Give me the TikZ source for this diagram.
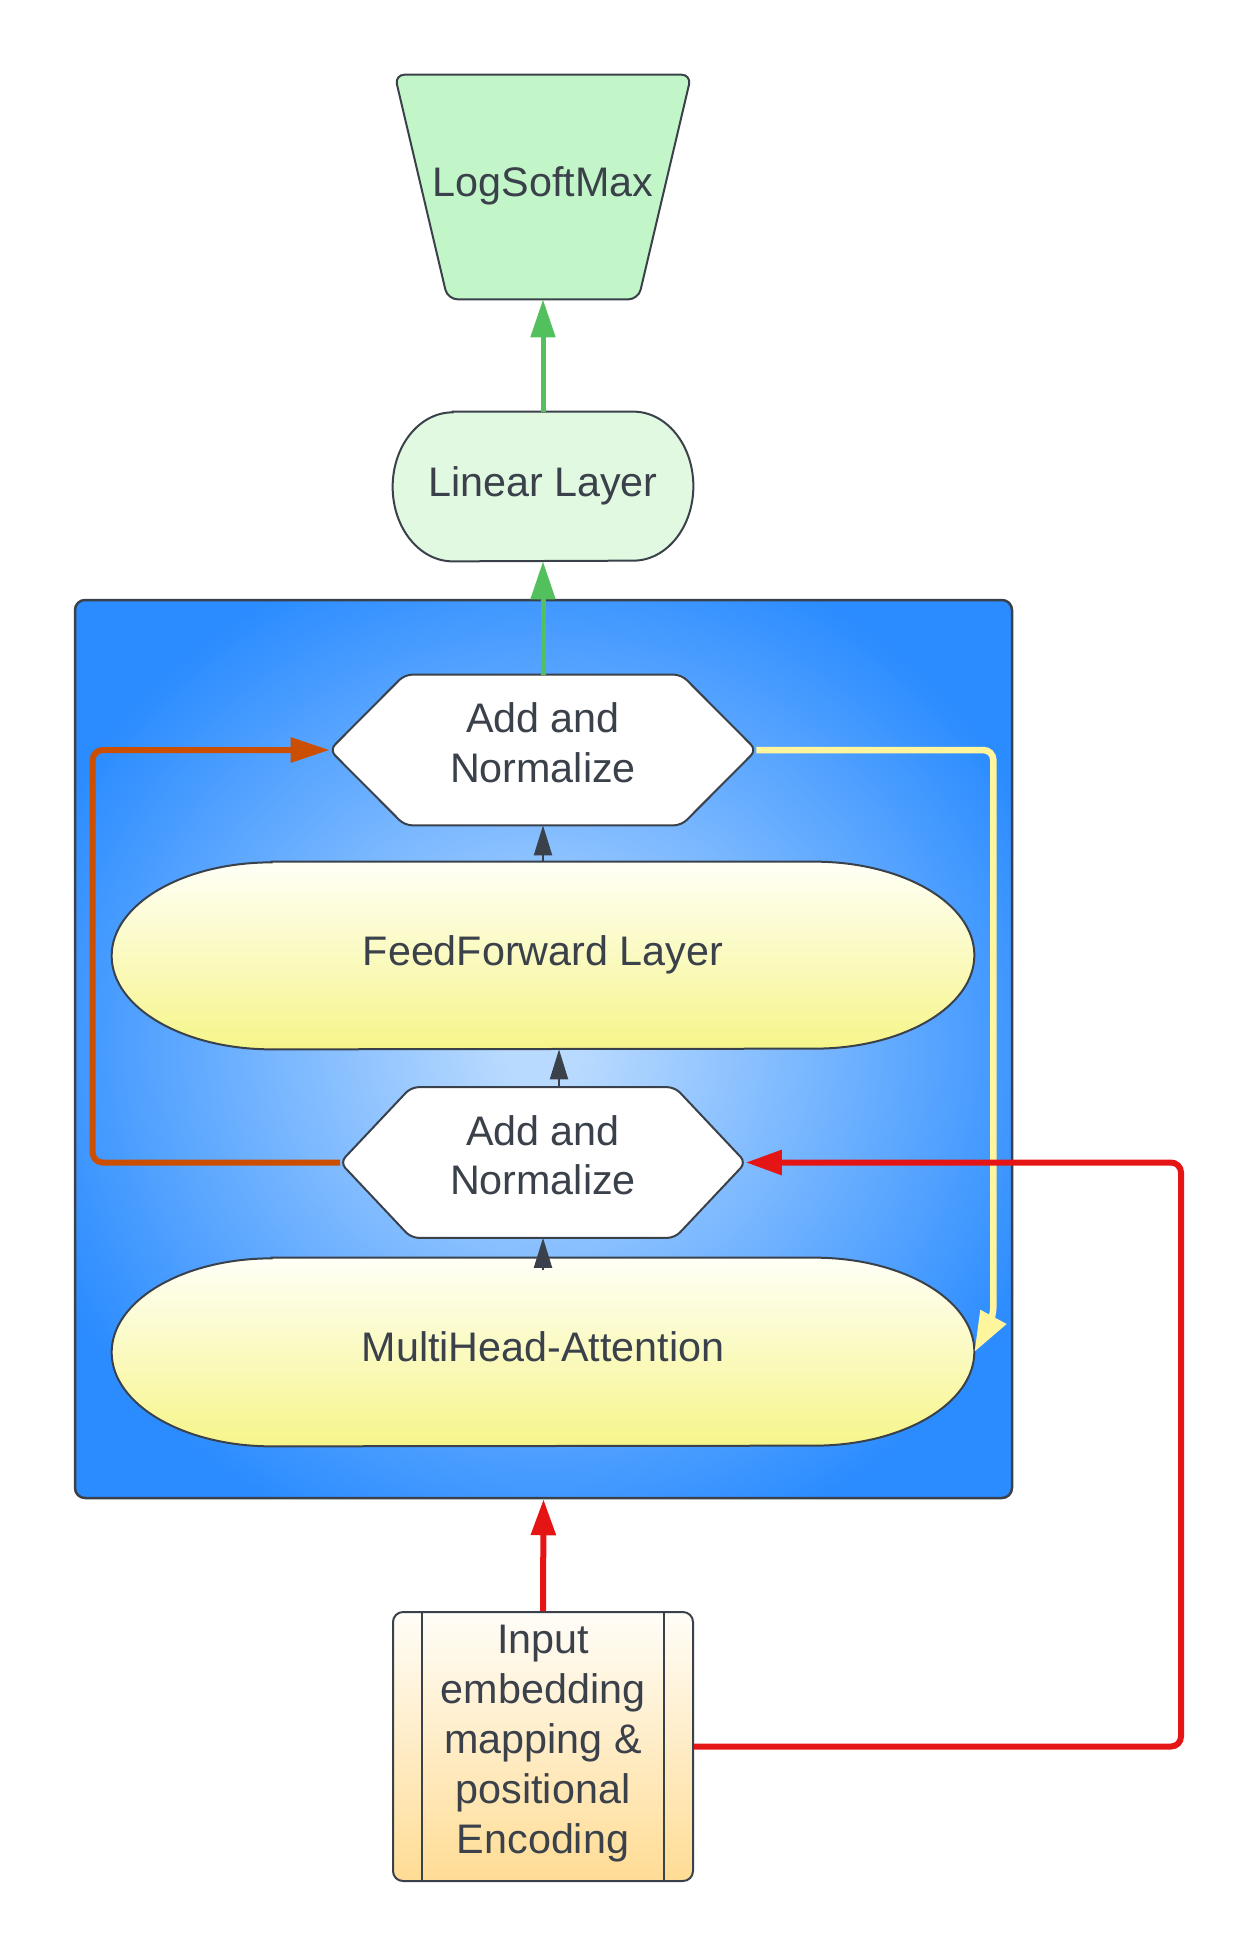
\documentclass[tikz,border=0pt]{standalone}
\usepackage{fontspec}
\setmainfont{Liberation Sans}
\usepackage{tikz}
\usetikzlibrary{arrows.meta,calc}
\usepackage{xcolor}
\definecolor{ink}{HTML}{3A414A}
\definecolor{softgreen}{HTML}{C2F6C8}
\definecolor{palegreen}{HTML}{E1F9E1}
\definecolor{leafgreen}{HTML}{52C05C}
\definecolor{bluein}{HTML}{B9DAFF}
\definecolor{blueout}{HTML}{2B8CFF}
\definecolor{creamtop}{HTML}{FFFFF7}
\definecolor{yellowbot}{HTML}{F6F58A}
\definecolor{peachtop}{HTML}{FFFDF8}
\definecolor{peachbot}{HTML}{FFDC94}
\definecolor{signalred}{HTML}{E51515}
\definecolor{rust}{HTML}{CC4E00}
\definecolor{lemon}{HTML}{FFF59D}

\pgfdeclareradialshading{bluebg}{\pgfpoint{0bp}{0bp}}{%
    color(0bp)=(bluein); color(2bp)=(bluein);
    color(29bp)=(blueout); color(50bp)=(blueout)}

\pgfdeclarelayer{back}
\pgfdeclarelayer{shape}
\pgfsetlayers{back,shape,main}

\tikzset{
    box/.style={
        inner sep=0pt,
        align=center,
        text=ink,
        font=\fontsize{23.5pt}{28.4pt}\selectfont,
        execute at begin node=\strut,
        execute at end node=\strut
    },
    outline/.style={
        draw=ink,
        line width=0.04cm
    },
    blockbox/.style={
        draw=ink,
        line width=0.05cm,
        rounded corners=0.2cm,
        shade,
        shading=bluebg,
        minimum width=18.74cm,
        minimum height=17.96cm,
        inner sep=0pt
    },
    procbox/.style={
        box,
        draw=ink,
        line width=0.04cm,
        rounded corners=0.2cm,
        top color=peachtop,
        bottom color=peachbot,
        minimum width=6cm,
        minimum height=5.38cm
    },
    thinarrow/.style={
        -{Triangle[length=0.6cm,width=0.36cm]},
        draw=ink,
        line width=0.04cm
    },
    greenarrow/.style={
        -{Triangle[length=0.76cm,width=0.48cm]},
        draw=leafgreen,
        line width=0.1cm
    },
    redarrow/.style={
        -{Triangle[length=0.72cm,width=0.48cm]},
        draw=signalred,
        line width=0.12cm,
        rounded corners=0.2cm
    },
    rustarrow/.style={
        -{Triangle[length=0.78cm,width=0.48cm]},
        draw=rust,
        line width=0.12cm,
        rounded corners=0.2cm
    },
    lemonarrow/.style={
        -{Triangle[length=0.8cm,width=0.56cm]},
        draw=lemon,
        line width=0.13cm,
        rounded corners=0.2cm
    }
}

\begin{document}
\begin{tikzpicture}

    \useasboundingbox (0,0) rectangle (25.12,-39.12);

    % Bloc encodeur
    \begin{pgfonlayer}{back}
        \node[blockbox] (block) at (10.87,-20.98) {};
    \end{pgfonlayer}

    % Noeuds
    \node[
        box,
        minimum width=5.92cm,
        minimum height=4.48cm
    ] (logsm) at (10.86,-3.74) {LogSoftMax};

    \node[
        box,
        minimum width=6cm,
        minimum height=2.98cm
    ] (linear) at (10.86,-9.73) {Linear Layer};

    \node[
        box,
        minimum width=8.52cm,
        minimum height=3cm
    ] (addtop) at (10.86,-15) {Add and\\Normalize};

    \node[
        box,
        minimum width=17.24cm,
        minimum height=3.74cm
    ] (ff) at (10.86,-19.11) {FeedForward Layer};

    \node[
        box,
        minimum width=8.1cm,
        minimum height=3cm
    ] (addbot) at (10.86,-23.25) {Add and\\Normalize};

    \node[
        box,
        minimum width=17.24cm,
        minimum height=3.76cm
    ] (mha) at (10.86,-27.04) {MultiHead-Attention};

    \node[procbox] (input) at (10.86,-34.93)
        {Input\\embedding\\mapping \&\\positional\\Encoding};

    % Barres du bloc d'entree
    \draw[outline]
        ([xshift=0.6cm]input.north west) -- ([xshift=0.6cm]input.south west);
    \draw[outline]
        ([xshift=-0.6cm]input.north east) -- ([xshift=-0.6cm]input.south east);

    % Contours
    \begin{pgfonlayer}{shape}

        % Trapeze
        \draw[outline,fill=softgreen,rounded corners=0.2cm]
            (logsm.north west) -- (logsm.north east)
            -- ([xshift=-1.06cm]logsm.south east)
            -- ([xshift=1.06cm]logsm.south west) -- cycle;

        % Couche lineaire
        \draw[outline,fill=palegreen]
            ([xshift=1.2cm]linear.north west) -- ([xshift=-1.2cm]linear.north east)
            arc[start angle=90,end angle=-90,x radius=1.2cm,y radius=1.49cm]
            -- ([xshift=1.2cm]linear.south west)
            arc[start angle=270,end angle=90,x radius=1.2cm,y radius=1.49cm]
            -- cycle;

        % Hexagone haut
        \draw[outline,fill=white,rounded corners=0.15cm]
            (addtop.west) -- ([xshift=1.5cm]addtop.north west)
            -- ([xshift=-1.5cm]addtop.north east) -- (addtop.east)
            -- ([xshift=-1.5cm]addtop.south east)
            -- ([xshift=1.5cm]addtop.south west) -- cycle;

        % FeedForward
        \draw[outline,top color=creamtop,bottom color=yellowbot]
            ([xshift=3.2cm]ff.north west) -- ([xshift=-3.2cm]ff.north east)
            arc[start angle=90,end angle=-90,x radius=3.2cm,y radius=1.87cm]
            -- ([xshift=3.2cm]ff.south west)
            arc[start angle=270,end angle=90,x radius=3.2cm,y radius=1.87cm]
            -- cycle;

        % Hexagone bas
        \draw[outline,fill=white,rounded corners=0.15cm]
            (addbot.west) -- ([xshift=1.42cm]addbot.north west)
            -- ([xshift=-1.42cm]addbot.north east) -- (addbot.east)
            -- ([xshift=-1.42cm]addbot.south east)
            -- ([xshift=1.42cm]addbot.south west) -- cycle;

        % Attention
        \draw[outline,top color=creamtop,bottom color=yellowbot]
            ([xshift=3.2cm]mha.north west) -- ([xshift=-3.2cm]mha.north east)
            arc[start angle=90,end angle=-90,x radius=3.2cm,y radius=1.88cm]
            -- ([xshift=3.2cm]mha.south west)
            arc[start angle=270,end angle=90,x radius=3.2cm,y radius=1.88cm]
            -- cycle;

    \end{pgfonlayer}

    % Fleches vertes
    \draw[greenarrow] (linear.north) -- (logsm.south);
    \draw[greenarrow] (addtop.north) -- (linear.south);

    % Fleches internes
    \draw[thinarrow] (ff.north) -- (addtop.south);
    \draw[thinarrow]
        ([xshift=0.32cm]addbot.north) -- ([xshift=0.32cm]ff.south);
    \draw[thinarrow] ([yshift=-0.25cm]mha.north) -- (addbot.south);

    % Connexion residuelle
    \draw[rustarrow]
        (addbot.west) -- ++(-4.95,0) |- (addtop.west);

    % Retour jaune
    \draw[lemonarrow]
        (addtop.east) -- ++(4.74,0) -- ++(0,-11.34) -- (mha.east);

    % Entree
    \draw[redarrow] (input.north) -- (block.south);
    \draw[redarrow]
        (input.east) -- ++(9.74,0) |- (addbot.east);

\end{tikzpicture}
\end{document}
